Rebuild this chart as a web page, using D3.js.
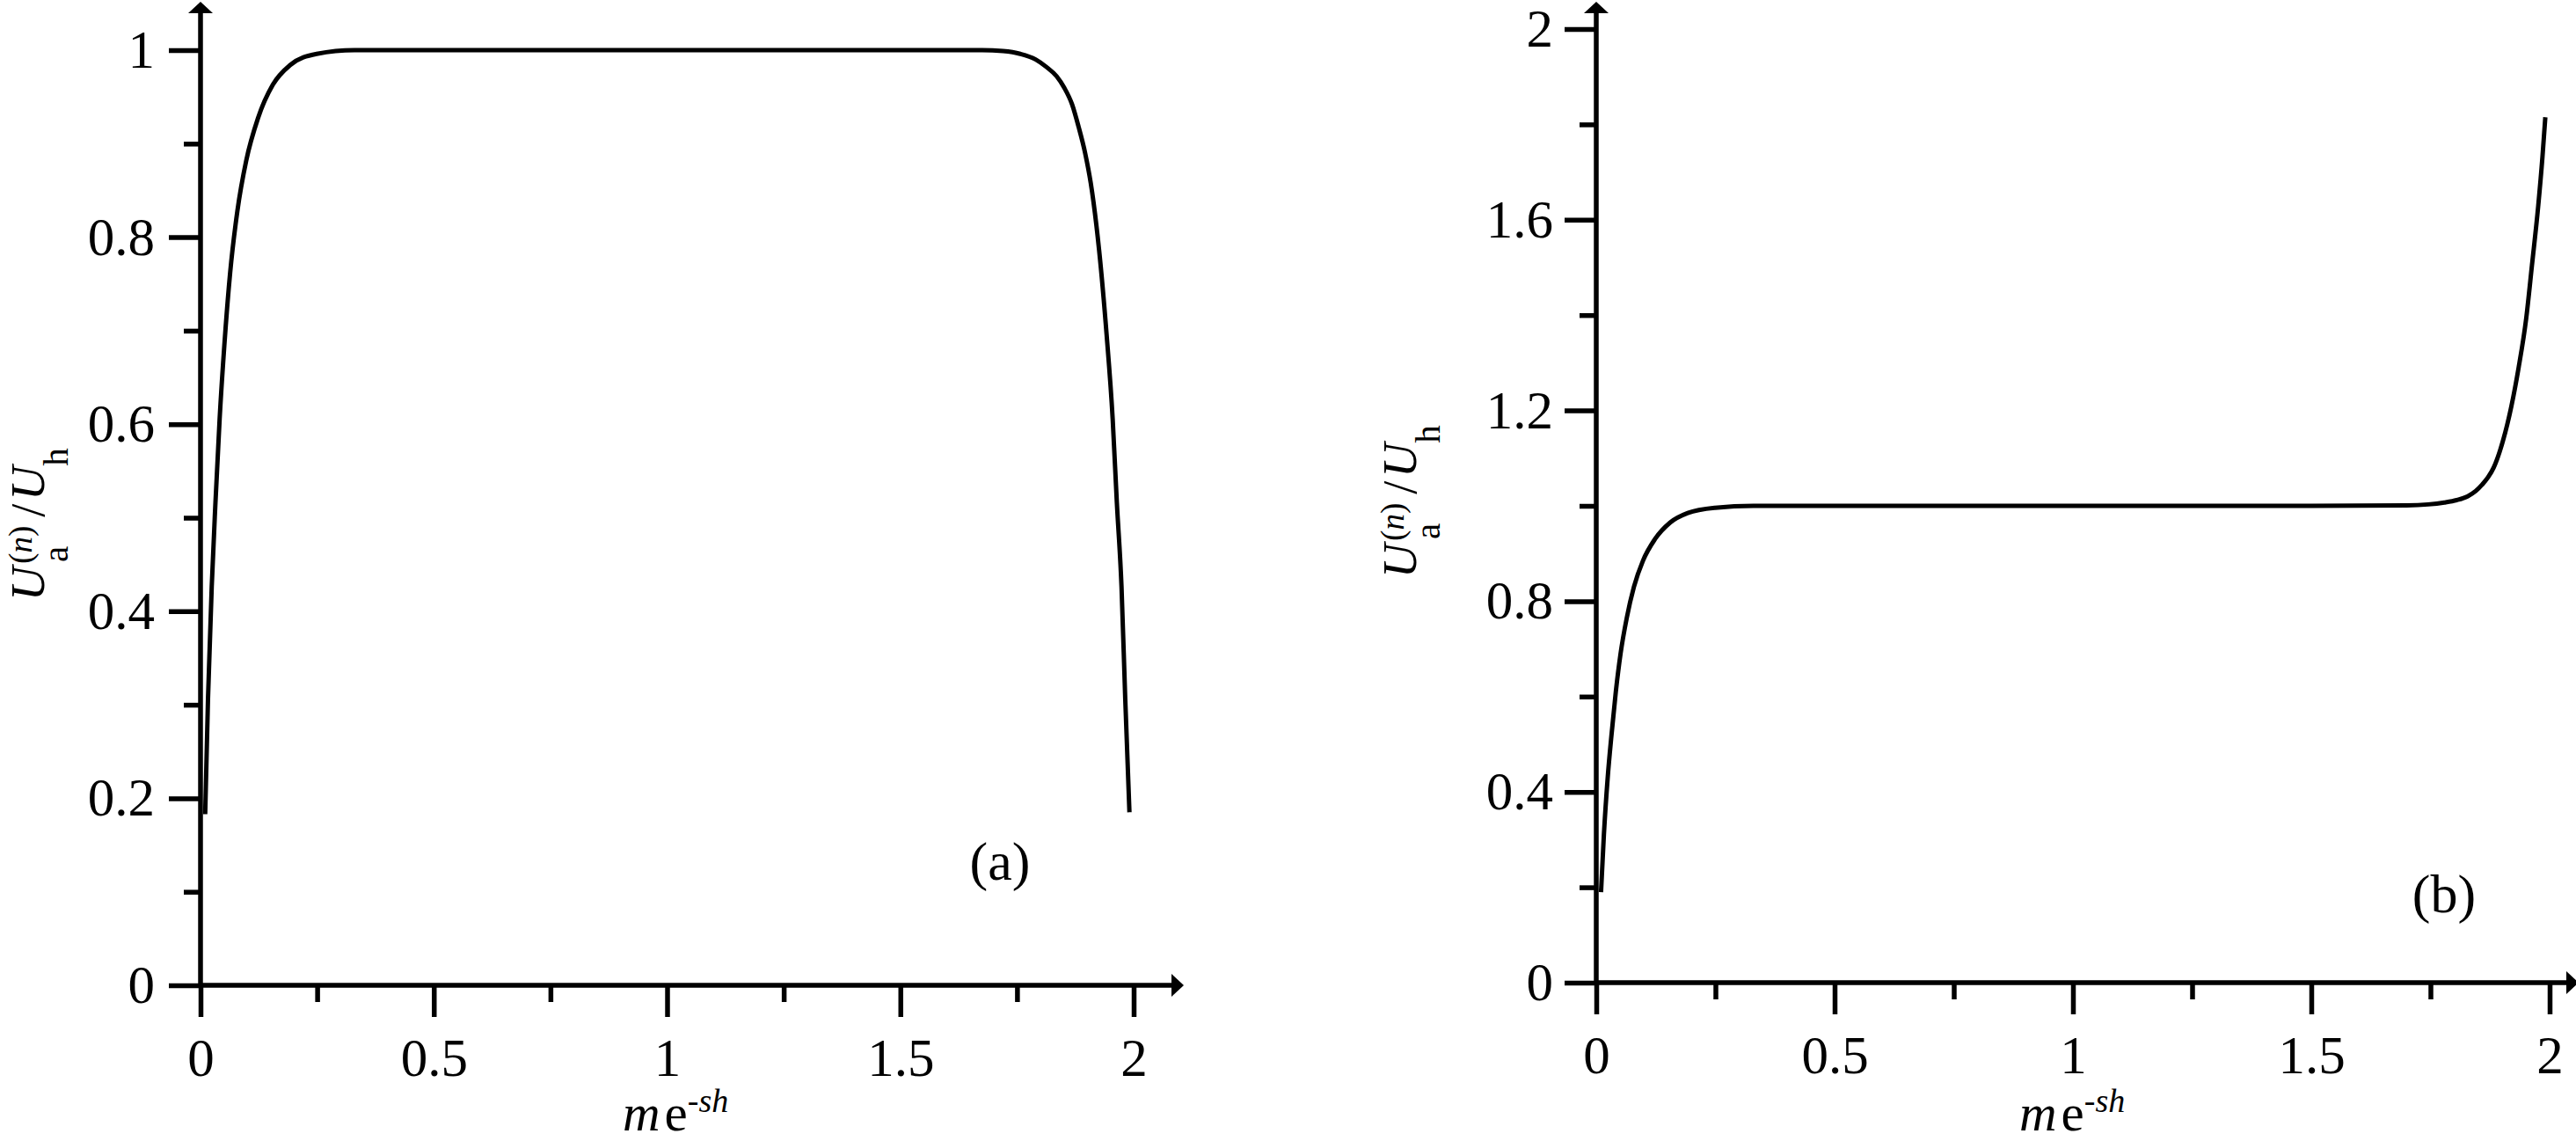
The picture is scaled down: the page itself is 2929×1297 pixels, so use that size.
<!DOCTYPE html>
<html><head><meta charset="utf-8">
<script src="https://cdn.jsdelivr.net/npm/d3@7"></script>
<style>
html,body{margin:0;padding:0;background:#fff;}
svg{display:block;}
text{font-family:"Liberation Serif","Times New Roman",serif;fill:#000;}
</style>
</head><body>
<svg id="chart" width="2929" height="1297" font-family="Liberation Serif, Times New Roman, serif"></svg>
<script>
// ---- data ----
const xTicksMajor = [0, 0.5, 1, 1.5, 2];
const xTicksMinor = [0.25, 0.75, 1.25, 1.75];
const yTicksMajorA = [0, 0.2, 0.4, 0.6, 0.8, 1];
const yTicksMinorA = [0.1, 0.3, 0.5, 0.7, 0.9];
const yTicksMajorB = [0, 0.4, 0.8, 1.2, 1.6, 2];
const yTicksMinorB = [0.2, 0.6, 1.0, 1.4, 1.8];

const xA = [0.010, 0.016, 0.024, 0.032, 0.041, 0.051, 0.0635, 0.079, 0.098, 0.123, 0.155, 0.192, 0.249, 0.33, 0.5, 1.0, 1.5, 1.675, 1.72, 1.757, 1.790, 1.813, 1.835, 1.851, 1.868, 1.882, 1.896, 1.908, 1.926, 1.942, 1.955, 1.964, 1.974, 1.982, 1.991];
const yA = [0.183, 0.306, 0.426, 0.516, 0.606, 0.684, 0.762, 0.828, 0.882, 0.927, 0.963, 0.984, 0.996, 1.0, 1.0, 1.0, 1.0, 1.0, 0.999, 0.996, 0.990, 0.982, 0.972, 0.960, 0.942, 0.918, 0.890, 0.858, 0.786, 0.696, 0.606, 0.516, 0.426, 0.306, 0.185];

const xB = [0.010, 0.016, 0.024, 0.032, 0.041, 0.051, 0.064, 0.079, 0.098, 0.123, 0.155, 0.192, 0.249, 0.33, 0.5, 1.0, 1.5, 1.70, 1.745, 1.779, 1.805, 1.828, 1.845, 1.858, 1.871, 1.883, 1.902, 1.920, 1.935, 1.951, 1.963, 1.976, 1.985, 1.991];
const yB = [0.190, 0.31, 0.43, 0.52, 0.61, 0.69, 0.765, 0.83, 0.885, 0.93, 0.965, 0.985, 0.996, 1.0, 1.0, 1.0, 1.0, 1.001, 1.003, 1.007, 1.012, 1.02, 1.031, 1.044, 1.06, 1.081, 1.136, 1.21, 1.29, 1.394, 1.505, 1.628, 1.732, 1.815];

const panelLabels = ["(a)", "(b)"];

// ---- drawing ----
const svg = d3.select("#chart");
const AX = 5.5;

const panels = [
  {xr:[228,1289], yd:[0,1], yr:[1120,57], yMaj:yTicksMajorA, yMin:yTicksMinorA, xs:xA, ys:yA,
   yTipOff:55, xTipOff:57, ylx:50, yly:683, xlx:708, xly:1285, lab:panelLabels[0], labx:1137, laby:1000, ypad:16},
  {xr:[1815,2899], yd:[0,2], yr:[1117,33], yMaj:yTicksMajorB, yMin:yTicksMinorB, xs:xB, ys:yB,
   yTipOff:31, xTipOff:33, ylx:1610, yly:657, xlx:2296, xly:1285, lab:panelLabels[1], labx:2779, laby:1037, ypad:13}
];

function styleAxis(g){
  g.select(".domain").remove();
  g.selectAll(".tick line").attr("stroke","#000").attr("stroke-width",AX);
  g.attr("font-family",null).attr("font-size",61);
  g.selectAll("text").attr("fill","#000");
}

panels.forEach(p => {
  const x = d3.scaleLinear().domain([0,2]).range(p.xr);
  const y = d3.scaleLinear().domain(p.yd).range(p.yr);
  const g = svg.append("g");
  const x0 = x(0), y0 = y(0);
  const yTip = Math.max(1, y(p.yd[1]) - p.yTipOff);
  const xTip = x(2) + p.xTipOff;

  // axis lines
  g.append("line").attr("x1",x0).attr("x2",x0).attr("y1",y0).attr("y2",yTip+10)
    .attr("stroke","#000").attr("stroke-width",AX);
  g.append("line").attr("x1",x0).attr("x2",xTip-10).attr("y1",y0).attr("y2",y0)
    .attr("stroke","#000").attr("stroke-width",AX);
  // arrowheads
  g.append("path").attr("d",`M${x0},${yTip}L${x0+14},${yTip+13}L${x0-14},${yTip+13}Z`).attr("fill","#000");
  g.append("path").attr("d",`M${xTip},${y0}L${xTip-14},${y0-13}L${xTip-14},${y0+13}Z`).attr("fill","#000");

  // x ticks
  const gx = g.append("g").attr("transform",`translate(0,${y0})`)
    .call(d3.axisBottom(x).tickValues(xTicksMajor).tickSize(36).tickPadding(24).tickFormat(d=>String(d)));
  styleAxis(gx);
  const gxm = g.append("g").attr("transform",`translate(0,${y0})`)
    .call(d3.axisBottom(x).tickValues(xTicksMinor).tickSize(19).tickFormat(""));
  styleAxis(gxm);

  // y ticks
  const gy = g.append("g").attr("transform",`translate(${x0},0)`)
    .call(d3.axisLeft(y).tickValues(p.yMaj).tickSize(36).tickPadding(p.ypad).tickFormat(d=>String(d)));
  styleAxis(gy);
  const gym = g.append("g").attr("transform",`translate(${x0},0)`)
    .call(d3.axisLeft(y).tickValues(p.yMin).tickSize(19).tickFormat(""));
  styleAxis(gym);

  // curve
  const line = d3.line().x(d=>x(d[0])).y(d=>y(d[1])).curve(d3.curveMonotoneX);
  g.append("path").datum(d3.zip(p.xs,p.ys)).attr("d",line)
    .attr("fill","none").attr("stroke","#000").attr("stroke-width",5).attr("stroke-linejoin","round");

  // y label
  const yl = g.append("text").attr("transform",`translate(${p.ylx},${p.yly}) rotate(-90)`)
    .attr("font-size",54);
  yl.append("tspan").attr("font-style","italic").text("U");
  yl.append("tspan").attr("font-size",41).attr("dx",5).attr("dy",27).text("a");
  yl.append("tspan").attr("font-size",37).attr("dx",-20).attr("dy",-41).text("(");
  yl.append("tspan").attr("font-size",37).attr("font-style","italic").text("n");
  yl.append("tspan").attr("font-size",37).text(")");
  yl.append("tspan").attr("dx",10).attr("dy",14).text("/");
  yl.append("tspan").attr("font-style","italic").attr("dx",4).text("U");
  yl.append("tspan").attr("font-size",41).attr("dy",27).text("h");

  // x label
  const xl = g.append("text").attr("x",p.xlx).attr("y",p.xly).attr("font-size",59);
  xl.append("tspan").attr("font-style","italic").text("m");
  xl.append("tspan").attr("dx",5).text("e");
  xl.append("tspan").attr("font-size",38).attr("dy",-21).text("-");
  xl.append("tspan").attr("font-size",38).attr("font-style","italic").text("sh");

  // panel label
  g.append("text").attr("x",p.labx).attr("y",p.laby).attr("text-anchor","middle")
    .attr("font-size",62).text(p.lab);
});
</script>
</body></html>
